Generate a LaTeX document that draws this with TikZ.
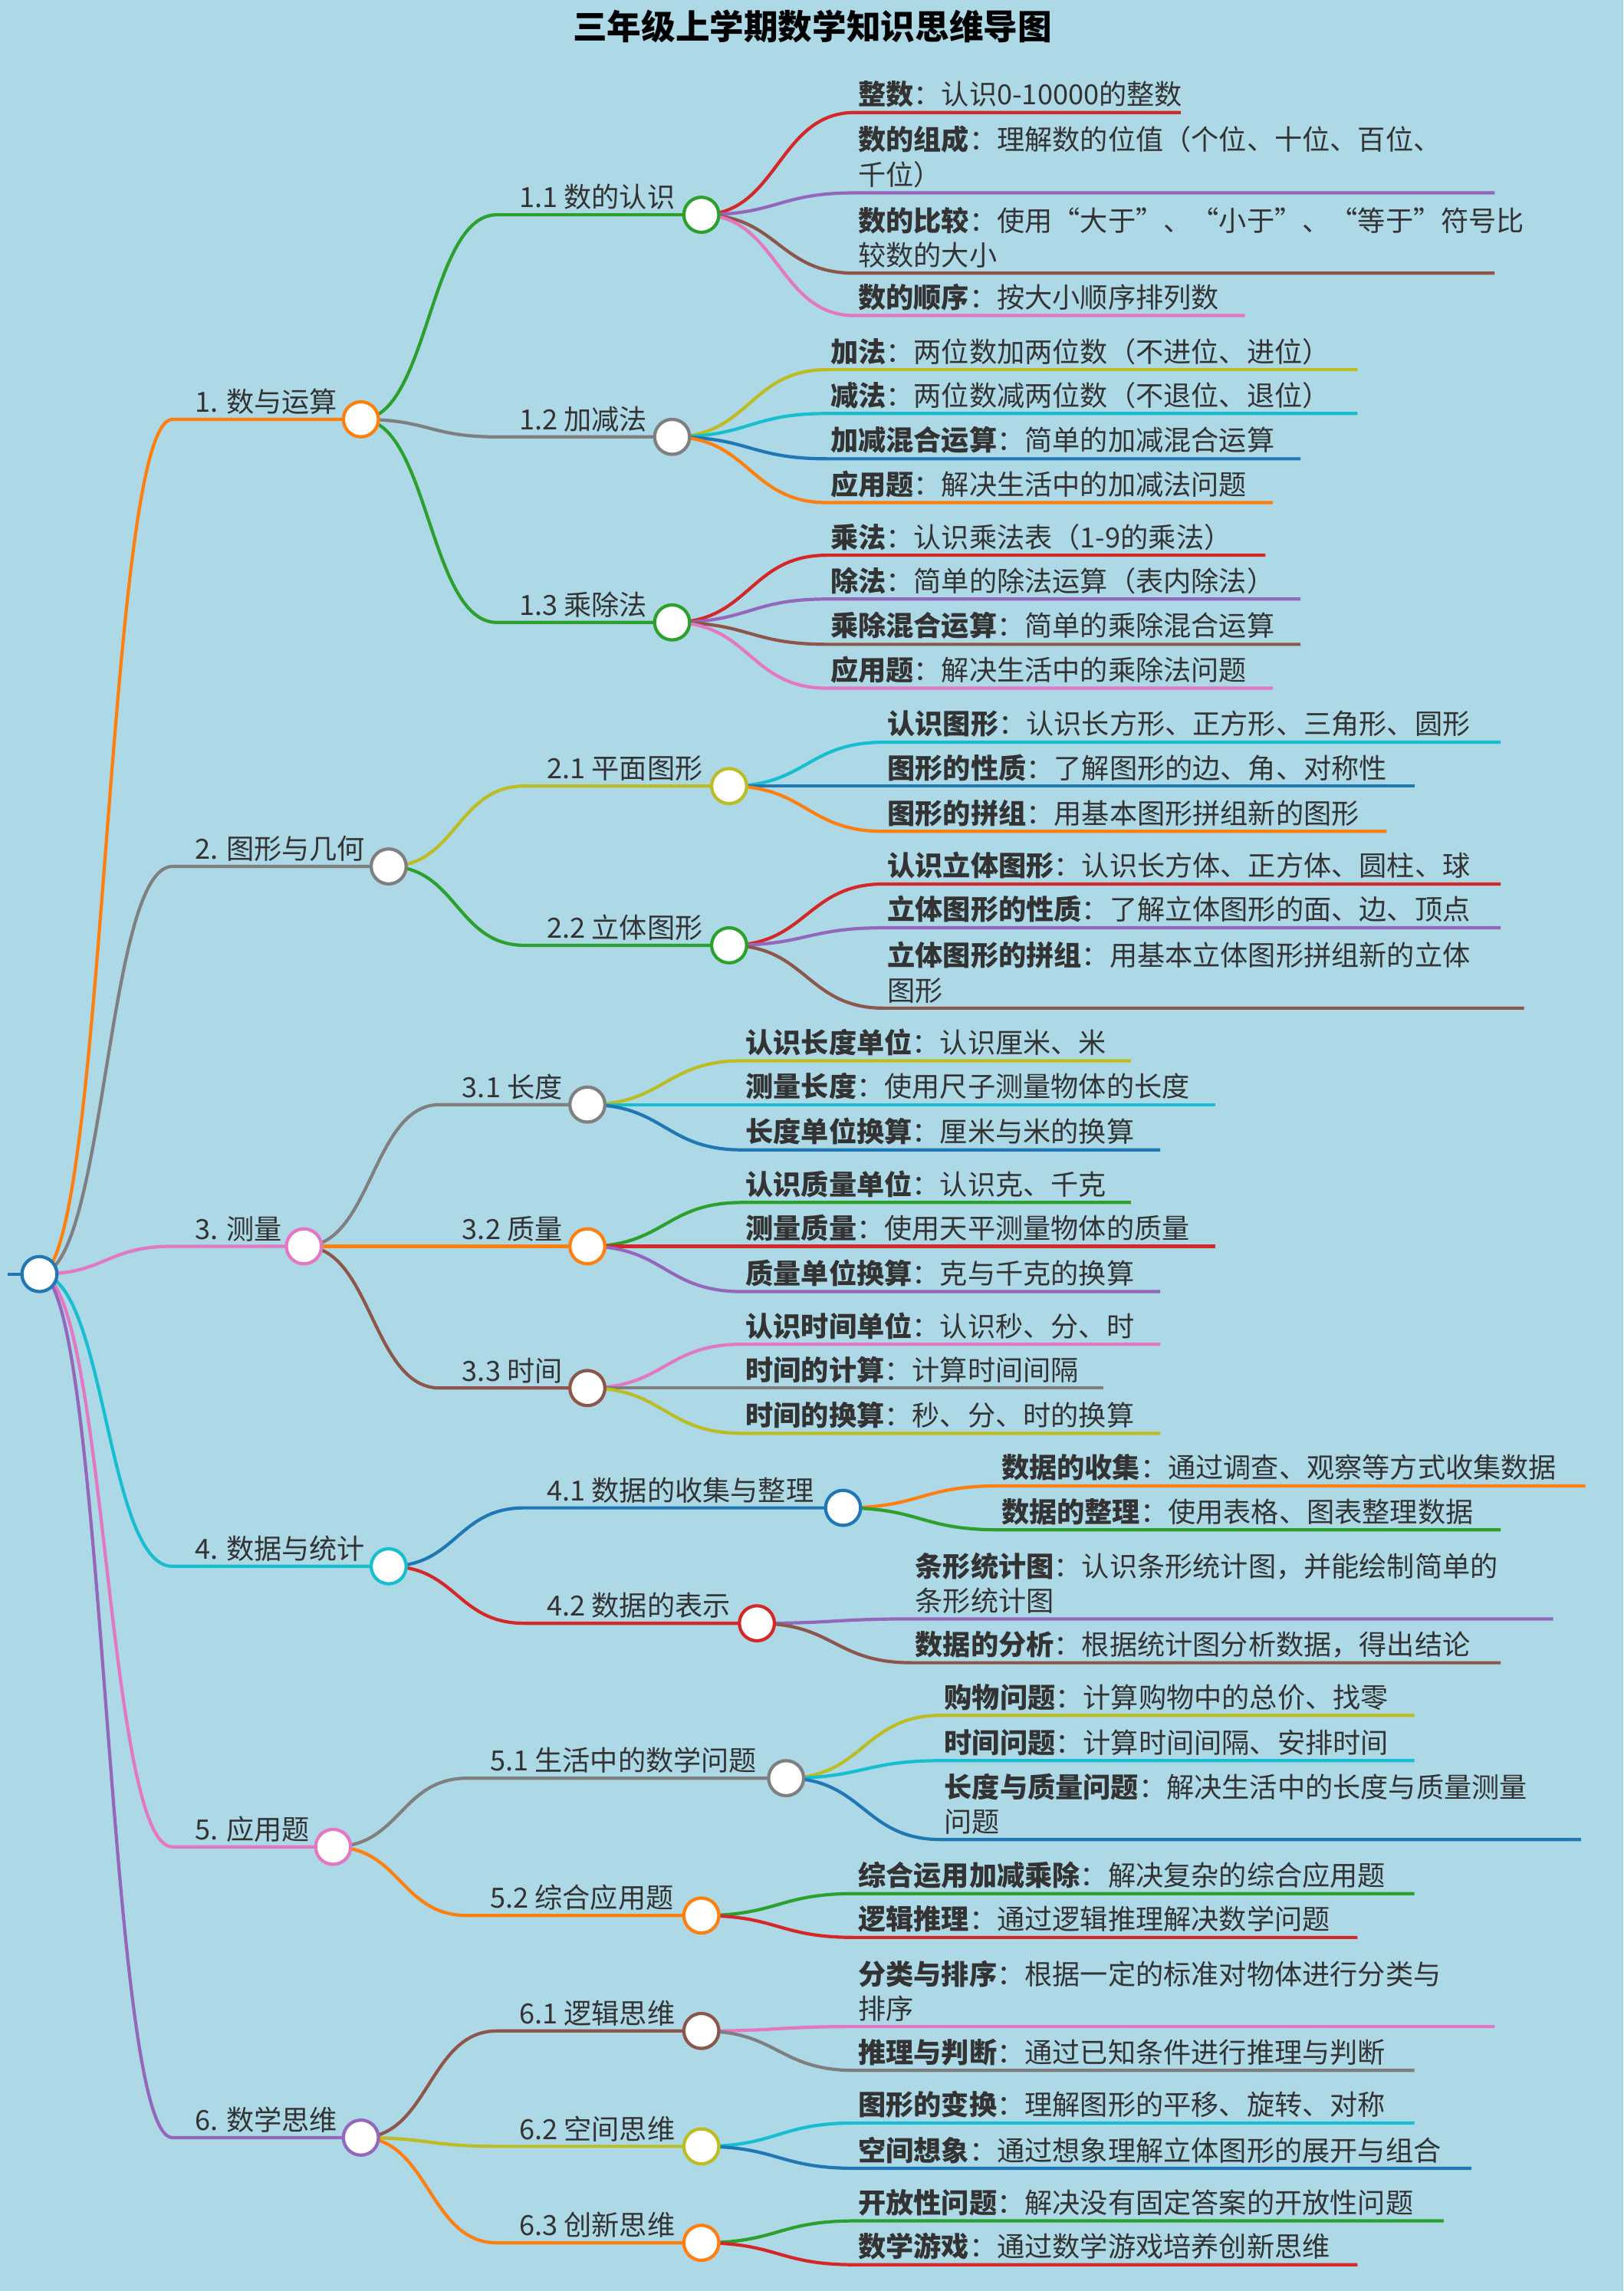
\documentclass[tikz,border=0pt]{standalone}
\usepackage{fontspec}
\setmainfont{Noto Sans CJK SC}
\usetikzlibrary{calc}
\definecolor{bgc}{RGB}{173,216,230}
\definecolor{cO}{RGB}{255,127,14}
\definecolor{cG}{RGB}{127,127,127}
\definecolor{cP}{RGB}{227,119,194}
\definecolor{cC}{RGB}{23,190,207}
\definecolor{cU}{RGB}{148,103,189}
\definecolor{cN}{RGB}{44,160,44}
\definecolor{cR}{RGB}{214,39,40}
\definecolor{cB}{RGB}{140,86,75}
\definecolor{cY}{RGB}{188,189,34}
\definecolor{cL}{RGB}{31,119,180}
\definecolor{tx}{RGB}{51,51,51}
\pgfdeclarelayer{bgzero}\pgfdeclarelayer{background}
\pgfsetlayers{bgzero,background,main}
\tikzset{conline/.style={line width=1.2pt},
 dot/.style={circle,fill=white,line width=1.2pt,minimum size=13pt,inner sep=0pt},
 lab/.style={anchor=south west,inner sep=0pt,text=tx,font=\fontsize{10.3}{13}\selectfont},
 leaftxt/.style={anchor=south west,inner sep=0pt,text=tx,align=left,font=\fontsize{10.3}{13}\selectfont}}
\newcommand\conn[8]{%
\pgfmathsetmacro\mx{(#3+#5)/2}%
\coordinate (#8s) at (#5,#6);%
\coordinate (#8e) at (#7,#6);%
\begin{pgfonlayer}{background}%
\draw[conline,draw=#1] (#2.center) .. controls (\mx,#4) and (\mx,#6) .. (#8s) -- (#8e);%
\end{pgfonlayer}}
\newcommand\branchnode[9]{\conn{#1}{#2}{#3}{#4}{#5}{#6}{#7}{#8}%
\node[lab] (#8t) at (#5+15,#6-3) {#9};%
\node[dot,draw=#1] (#8) at (#8e) {};}
\newcommand\leaf[9]{\conn{#1}{#2}{#3}{#4}{#5}{#6}{#7}{#8}%
\node[leaftxt] (#8t) at (#5+2,#6-3) {#9};}
\begin{document}
\begin{tikzpicture}[x=0.01906cm,y=-0.01906cm]
\begin{pgfonlayer}{bgzero}
\fill[bgc] (0,0) rectangle (1111,1568);
\end{pgfonlayer}
\useasboundingbox (0,0) rectangle (1111,1568);
\node[text=black,font=\fontsize{12.7}{15}\selectfont\bfseries] (title) at (556,18) {三年级上学期数学知识思维导图};
\coordinate (r0) at (5,872);
\node[dot,draw=cL] (r) at (27,872) {};
\begin{pgfonlayer}{background}\draw[conline,cL] (r0) -- (r);\end{pgfonlayer}
\branchnode{cO}{r}{27}{872}{118}{287}{247}{a1}{1. 数与运算}
\branchnode{cG}{r}{27}{872}{118}{593}{266}{a2}{2. 图形与几何}
\branchnode{cP}{r}{27}{872}{118}{853}{208}{a3}{3. 测量}
\branchnode{cC}{r}{27}{872}{118}{1072}{266}{a4}{4. 数据与统计}
\branchnode{cP}{r}{27}{872}{118}{1264}{228}{a5}{5. 应用题}
\branchnode{cU}{r}{27}{872}{118}{1463}{247}{a6}{6. 数学思维}
\branchnode{cN}{a1}{247}{287}{340}{147}{480}{b11}{1.1 数的认识}
\branchnode{cG}{a1}{247}{287}{340}{299}{460}{b12}{1.2 加减法}
\branchnode{cN}{a1}{247}{287}{340}{426}{460}{b13}{1.3 乘除法}
\branchnode{cY}{a2}{266}{593}{359}{538}{499}{b21}{2.1 平面图形}
\branchnode{cN}{a2}{266}{593}{359}{647}{499}{b22}{2.2 立体图形}
\branchnode{cG}{a3}{208}{853}{301}{756}{402}{b31}{3.1 长度}
\branchnode{cO}{a3}{208}{853}{301}{853}{402}{b32}{3.2 质量}
\branchnode{cB}{a3}{208}{853}{301}{950}{402}{b33}{3.3 时间}
\branchnode{cL}{a4}{266}{1072}{359}{1032}{577}{b41}{4.1 数据的收集与整理}
\branchnode{cR}{a4}{266}{1072}{359}{1111}{518}{b42}{4.2 数据的表示}
\branchnode{cG}{a5}{228}{1264}{320}{1217}{538}{b51}{5.1 生活中的数学问题}
\branchnode{cO}{a5}{228}{1264}{320}{1311}{480}{b52}{5.2 综合应用题}
\branchnode{cB}{a6}{247}{1463}{340}{1390}{480}{b61}{6.1 逻辑思维}
\branchnode{cY}{a6}{247}{1463}{340}{1469}{480}{b62}{6.2 空间思维}
\branchnode{cO}{a6}{247}{1463}{340}{1535}{480}{b63}{6.3 创新思维}
\leaf{cR}{b11}{480}{147}{585}{77}{808}{c1}{\textbf{整数}：认识0-10000的整数}
\leaf{cU}{b11}{480}{147}{585}{132}{1023}{c2}{\textbf{数的组成}：理解数的位值（个位、十位、百位、\\千位）}
\leaf{cB}{b11}{480}{147}{585}{187}{1023}{c3}{\textbf{数的比较}：使用“大于”、“小于”、“等于”符号比\\较数的大小}
\leaf{cP}{b11}{480}{147}{585}{216}{852}{c4}{\textbf{数的顺序}：按大小顺序排列数}
\leaf{cY}{b12}{460}{299}{566}{253}{929}{c5}{\textbf{加法}：两位数加两位数（不进位、进位）}
\leaf{cC}{b12}{460}{299}{566}{283}{929}{c6}{\textbf{减法}：两位数减两位数（不退位、退位）}
\leaf{cL}{b12}{460}{299}{566}{314}{890}{c7}{\textbf{加减混合运算}：简单的加减混合运算}
\leaf{cO}{b12}{460}{299}{566}{344}{871}{c8}{\textbf{应用题}：解决生活中的加减法问题}
\leaf{cR}{b13}{460}{426}{566}{380}{866}{c9}{\textbf{乘法}：认识乘法表（1-9的乘法）}
\leaf{cU}{b13}{460}{426}{566}{410}{890}{c10}{\textbf{除法}：简单的除法运算（表内除法）}
\leaf{cB}{b13}{460}{426}{566}{441}{890}{c11}{\textbf{乘除混合运算}：简单的乘除混合运算}
\leaf{cP}{b13}{460}{426}{566}{471}{871}{c12}{\textbf{应用题}：解决生活中的乘除法问题}
\leaf{cC}{b21}{499}{538}{605}{508}{1027}{c13}{\textbf{认识图形}：认识长方形、正方形、三角形、圆形}
\leaf{cL}{b21}{499}{538}{605}{538}{968}{c14}{\textbf{图形的性质}：了解图形的边、角、对称性}
\leaf{cO}{b21}{499}{538}{605}{569}{949}{c15}{\textbf{图形的拼组}：用基本图形拼组新的图形}
\leaf{cR}{b22}{499}{647}{605}{605}{1027}{c16}{\textbf{认识立体图形}：认识长方体、正方体、圆柱、球}
\leaf{cU}{b22}{499}{647}{605}{635}{1027}{c17}{\textbf{立体图形的性质}：了解立体图形的面、边、顶点}
\leaf{cB}{b22}{499}{647}{605}{690}{1043}{c18}{\textbf{立体图形的拼组}：用基本立体图形拼组新的立体\\图形}
\leaf{cY}{b31}{402}{756}{508}{726}{774}{c19}{\textbf{认识长度单位}：认识厘米、米}
\leaf{cC}{b31}{402}{756}{508}{756}{832}{c20}{\textbf{测量长度}：使用尺子测量物体的长度}
\leaf{cL}{b31}{402}{756}{508}{787}{794}{c21}{\textbf{长度单位换算}：厘米与米的换算}
\leaf{cN}{b32}{402}{853}{508}{823}{774}{c22}{\textbf{认识质量单位}：认识克、千克}
\leaf{cR}{b32}{402}{853}{508}{853}{832}{c23}{\textbf{测量质量}：使用天平测量物体的质量}
\leaf{cU}{b32}{402}{853}{508}{884}{794}{c24}{\textbf{质量单位换算}：克与千克的换算}
\leaf{cP}{b33}{402}{950}{508}{920}{794}{c25}{\textbf{认识时间单位}：认识秒、分、时}
\leaf{cG}{b33}{402}{950}{508}{950}{755}{c26}{\textbf{时间的计算}：计算时间间隔}
\leaf{cY}{b33}{402}{950}{508}{981}{794}{c27}{\textbf{时间的换算}：秒、分、时的换算}
\leaf{cO}{b41}{577}{1032}{683}{1017}{1085}{c28}{\textbf{数据的收集}：通过调查、观察等方式收集数据}
\leaf{cN}{b41}{577}{1032}{683}{1047}{1027}{c29}{\textbf{数据的整理}：使用表格、图表整理数据}
\leaf{cU}{b42}{518}{1111}{624}{1108}{1063}{c30}{\textbf{条形统计图}：认识条形统计图，并能绘制简单的\\条形统计图}
\leaf{cB}{b42}{518}{1111}{624}{1138}{1027}{c31}{\textbf{数据的分析}：根据统计图分析数据，得出结论}
\leaf{cY}{b51}{538}{1217}{644}{1174}{968}{c32}{\textbf{购物问题}：计算购物中的总价、找零}
\leaf{cC}{b51}{538}{1217}{644}{1205}{968}{c33}{\textbf{时间问题}：计算时间间隔、安排时间}
\leaf{cL}{b51}{538}{1217}{644}{1259}{1082}{c34}{\textbf{长度与质量问题}：解决生活中的长度与质量测量\\问题}
\leaf{cN}{b52}{480}{1311}{585}{1296}{968}{c35}{\textbf{综合运用加减乘除}：解决复杂的综合应用题}
\leaf{cR}{b52}{480}{1311}{585}{1326}{929}{c36}{\textbf{逻辑推理}：通过逻辑推理解决数学问题}
\leaf{cP}{b61}{480}{1390}{585}{1387}{1023}{c37}{\textbf{分类与排序}：根据一定的标准对物体进行分类与\\排序}
\leaf{cG}{b61}{480}{1390}{585}{1417}{968}{c38}{\textbf{推理与判断}：通过已知条件进行推理与判断}
\leaf{cC}{b62}{480}{1469}{585}{1453}{968}{c39}{\textbf{图形的变换}：理解图形的平移、旋转、对称}
\leaf{cL}{b62}{480}{1469}{585}{1484}{1007}{c40}{\textbf{空间想象}：通过想象理解立体图形的展开与组合}
\leaf{cN}{b63}{480}{1535}{585}{1520}{988}{c41}{\textbf{开放性问题}：解决没有固定答案的开放性问题}
\leaf{cR}{b63}{480}{1535}{585}{1550}{929}{c42}{\textbf{数学游戏}：通过数学游戏培养创新思维}
\end{tikzpicture}
\end{document}
